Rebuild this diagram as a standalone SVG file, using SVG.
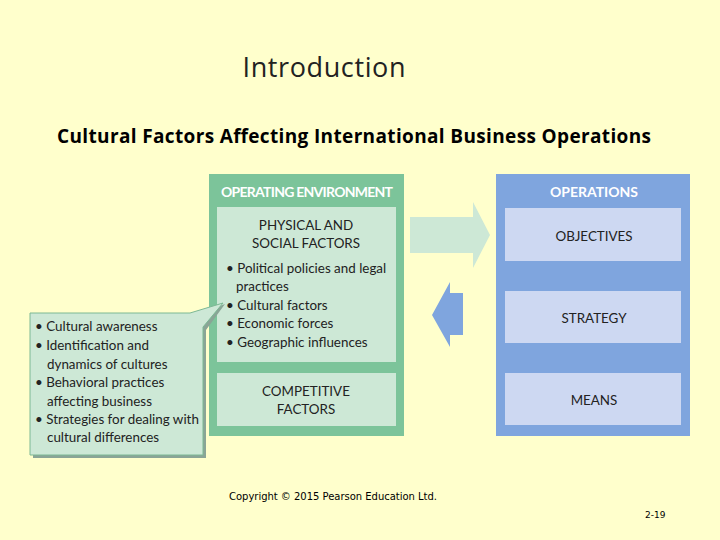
<svg xmlns="http://www.w3.org/2000/svg" width="720" height="540" viewBox="0 0 720 540">
<style>
.t{font-family:"Lato","Open Sans","Liberation Sans",sans-serif;font-size:13.4px;fill:#222}
.c{text-anchor:middle}
.h{font-family:"Lato","Open Sans","Liberation Sans",sans-serif;font-size:14px;font-weight:bold;fill:#fff;text-anchor:middle}
.lg{fill:#cde8d6}
.lb{fill:#cdd8f2}
</style>
<rect width="720" height="540" fill="#ffffcc"/>
<text x="324" y="77" font-family="Open Sans, Liberation Sans, sans-serif" font-size="27" fill="#222" text-anchor="middle" textLength="163">Introduction</text>
<text x="354" y="143" font-family="Open Sans, Liberation Sans, sans-serif" font-size="19" font-weight="bold" fill="#000" text-anchor="middle" textLength="594">Cultural Factors Affecting International Business Operations</text>

<g id="connectors">
<polygon points="410,217 473,217 473,202 490,235 473,268 473,253 410,253" fill="#cde8d6"/>
<polygon points="463,293 450,293 450,282 432,315 450,347 450,335 463,335" fill="#7fa5de"/>
</g>

<g id="operating-environment">
<rect x="209" y="174" width="195" height="262" fill="#7cc49a"/>
<text class="h" x="307" y="197" textLength="172">OPERATING ENVIRONMENT</text>
</g>
<g id="physical-social">
<rect class="lg" x="217" y="207" width="179" height="155"/>
<text class="t c" x="306" y="230">PHYSICAL AND</text>
<text class="t c" x="306" y="248">SOCIAL FACTORS</text>
<text class="t" x="226" y="273">• Political policies and legal</text>
<text class="t" x="236" y="291">practices</text>
<text class="t" x="226" y="310">• Cultural factors</text>
<text class="t" x="226" y="328">• Economic forces</text>
<text class="t" x="226" y="347">• Geographic influences</text>
</g>
<g id="competitive">
<rect class="lg" x="217" y="373" width="179" height="53"/>
<text class="t c" x="306" y="396">COMPETITIVE</text>
<text class="t c" x="306" y="414">FACTORS</text>
</g>

<g id="operations">
<rect x="496" y="174" width="194" height="262" fill="#7fa5de"/>
<text class="h" x="594" y="197">OPERATIONS</text>
</g>
<g id="objectives">
<rect class="lb" x="505" y="208" width="176" height="53"/>
<text class="t c" x="594" y="241">OBJECTIVES</text>
</g>
<g id="strategy">
<rect class="lb" x="505" y="291" width="176" height="52"/>
<text class="t c" x="594" y="323">STRATEGY</text>
</g>
<g id="means">
<rect class="lb" x="505" y="373" width="176" height="52"/>
<text class="t c" x="594" y="405">MEANS</text>
</g>

<g id="callout">
<path d="M33,316 L193,316 L225,304 L206,330 L206,458 L33,458 Z" fill="#8aa596"/>
<path d="M30,313 L190,313 L223,303 L203,327 L203,455 L30,455 Z" fill="#cde8d6" stroke="#7cb894" stroke-width="1"/>
<text class="t" x="35" y="331">• Cultural awareness</text>
<text class="t" x="35" y="350">• Identification and</text>
<text class="t" x="47" y="369">dynamics of cultures</text>
<text class="t" x="35" y="387">• Behavioral practices</text>
<text class="t" x="47" y="406">affecting business</text>
<text class="t" x="35" y="424">• Strategies for dealing with</text>
<text class="t" x="47" y="442">cultural differences</text>
</g>

<text x="229" y="500" font-family="DejaVu Sans, Verdana, sans-serif" font-size="10" fill="#000" textLength="208">Copyright © 2015 Pearson Education Ltd.</text>
<text x="645" y="518" font-family="DejaVu Sans, Verdana, sans-serif" font-size="9" fill="#000">2-19</text>
</svg>
